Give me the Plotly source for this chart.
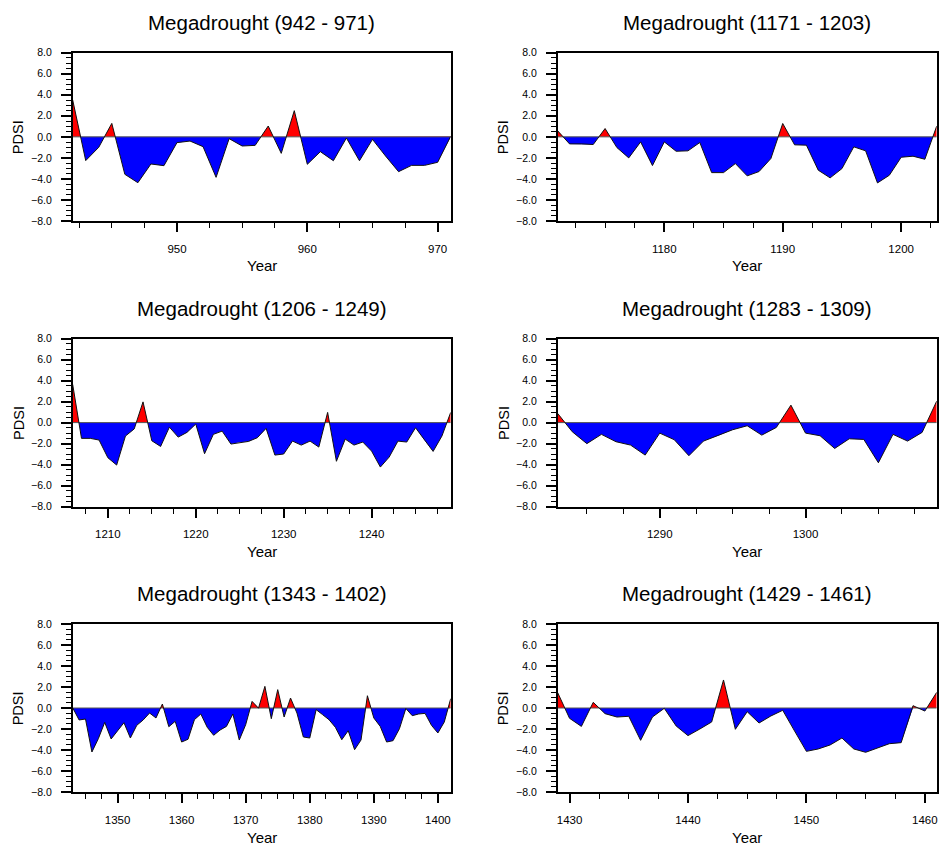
import plotly.graph_objects as go

# PDSI series for six megadrought periods (annual values)
years_942 = list(range(942, 972))
pdsi_942 = [3.5, -2.26, -0.99, 1.28, -3.56, -4.36, -2.58, -2.74, -0.55, -0.40,
            -0.93, -3.85, -0.17, -0.87, -0.81, 1.03, -1.57, 2.49, -2.61, -1.41,
            -2.27, -0.11, -2.27, -0.24, -1.82, -3.31, -2.71, -2.71, -2.42, 0.05]

years_1171 = list(range(1171, 1204))
pdsi_1171 = [0.57, -0.67, -0.67, -0.73, 0.79, -1.02, -2.00, -0.48, -2.73, -0.48,
             -1.37, -1.33, -0.54, -3.40, -3.40, -2.54, -3.71, -3.30, -2.06, 1.27,
             -0.76, -0.79, -3.17, -3.90, -3.02, -0.95, -1.33, -4.38, -3.65, -1.94,
             -1.84, -2.13, 1.02]

years_1206 = list(range(1206, 1250))
pdsi_1206 = [3.63, -1.50, -1.50, -1.66, -3.34, -4.04, -1.28, -0.60, 1.97, -1.73,
             -2.27, -0.43, -1.38, -0.93, -0.14, -2.96, -1.12, -0.81, -2.04, -1.88,
             -1.79, -1.44, -0.55, -3.09, -2.99, -1.76, -2.14, -1.76, -2.33, 0.97,
             -3.68, -1.57, -2.14, -1.85, -2.71, -4.23, -3.28, -1.76, -1.85, -0.49,
             -1.66, -2.74, -1.28, 0.97]

years_1283 = list(range(1283, 1310))
pdsi_1283 = [0.87, -0.87, -2.00, -1.12, -1.82, -2.14, -3.09, -1.00, -1.63, -3.15,
             -1.76, -1.25, -0.68, -0.30, -1.19, -0.46, 1.66, -1.00, -1.25, -2.46,
             -1.54, -1.60, -3.82, -1.12, -1.76, -0.93, 2.04]

years_1343 = list(range(1343, 1403))
pdsi_1343 = [0.02, -1.14, -1.05, -4.19, -2.92, -1.37, -2.95, -2.22, -1.40, -2.86,
             -1.65, -1.14, -0.48, -0.95, 0.38, -1.78, -1.27, -3.24, -2.98, -1.11,
             -0.57, -1.84, -2.60, -2.10, -1.75, -0.57, -3.05, -1.59, 0.63, -0.02,
             2.06, -1.02, 1.75, -0.86, 0.95, -0.48, -2.76, -2.86, -0.16, -0.63,
             -1.11, -1.84, -3.02, -2.16, -3.97, -3.05, 1.17, -0.95, -1.75, -3.24,
             -3.11, -1.97, -0.05, -0.73, -0.57, -0.51, -1.65, -2.38, -1.33, 0.89]

years_1429 = list(range(1429, 1462))
pdsi_1429 = [1.46, -0.98, -1.75, 0.54, -0.54, -0.86, -0.79, -3.08, -0.86, -0.03,
             -1.71, -2.63, -2.00, -1.33, 2.67, -2.03, -0.35, -1.43, -0.76, -0.22,
             -2.19, -4.13, -3.90, -3.52, -2.86, -3.90, -4.22, -3.81, -3.40, -3.30,
             0.22, -0.29, 1.49]

panels = [
    ("Megadrought (942 - 971)", years_942, pdsi_942),
    ("Megadrought (1171 - 1203)", years_1171, pdsi_1171),
    ("Megadrought (1206 - 1249)", years_1206, pdsi_1206),
    ("Megadrought (1283 - 1309)", years_1283, pdsi_1283),
    ("Megadrought (1343 - 1402)", years_1343, pdsi_1343),
    ("Megadrought (1429 - 1461)", years_1429, pdsi_1429),
]

y_ticks = [-8, -6, -4, -2, 0, 2, 4, 6, 8]

W, H = 941, 848
FONT = "Liberation Sans, Arial, Helvetica, sans-serif"
WET = "#ff0000"
DRY = "#0000ff"

# plot-box pixel extents: columns (left, right) and rows (top, bottom)
cols_px = [(72.7, 450.7), (557.7, 936.7)]
rows_px = [(52.7, 221.0), (338.5, 506.7), (624.0, 792.0)]


def px_x(p):
    return p / W


def px_y(p):
    return 1 - p / H


def split_at_zero(xs, ys):
    """Insert zero crossings so the wet/dry fills meet exactly on y=0."""
    ox, oy = [xs[0]], [ys[0]]
    for i in range(1, len(xs)):
        x0, y0, x1, y1 = xs[i - 1], ys[i - 1], xs[i], ys[i]
        if (y0 > 0 and y1 < 0) or (y0 < 0 and y1 > 0):
            xc = x0 + (x1 - x0) * y0 / (y0 - y1)
            ox.append(xc)
            oy.append(0.0)
        ox.append(x1)
        oy.append(y1)
    return ox, oy


fig = go.Figure()
annotations = []
layout_axes = {}

for i, (title, yrs, vals) in enumerate(panels):
    r, c = divmod(i, 2)
    n = i + 1
    xa = "x" if n == 1 else f"x{n}"
    ya = "y" if n == 1 else f"y{n}"
    xs, ys = split_at_zero(yrs, vals)
    pos = [max(v, 0.0) for v in ys]
    neg = [min(v, 0.0) for v in ys]

    fig.add_trace(go.Scatter(x=xs, y=pos, mode="lines", fill="tozeroy",
                             fillcolor=WET, line=dict(width=0, color=WET),
                             xaxis=xa, yaxis=ya, showlegend=False, hoverinfo="skip"))
    fig.add_trace(go.Scatter(x=xs, y=neg, mode="lines", fill="tozeroy",
                             fillcolor=DRY, line=dict(width=0, color=DRY),
                             xaxis=xa, yaxis=ya, showlegend=False, hoverinfo="skip"))
    # zero reference line across the period
    fig.add_trace(go.Scatter(x=[yrs[0], yrs[-1]], y=[0, 0], mode="lines",
                             line=dict(width=1, color="#555555"),
                             xaxis=xa, yaxis=ya, showlegend=False, hoverinfo="skip"))
    # PDSI outline
    fig.add_trace(go.Scatter(x=yrs, y=vals, mode="lines",
                             line=dict(width=1, color="#111111"),
                             xaxis=xa, yaxis=ya, showlegend=False))

    l, rr = cols_px[c]
    t, b = rows_px[r]
    xkey = "xaxis" if n == 1 else f"xaxis{n}"
    ykey = "yaxis" if n == 1 else f"yaxis{n}"
    layout_axes[xkey] = dict(
        domain=[px_x(l), px_x(rr)], anchor=ya, range=[yrs[0], yrs[-1]],
        tick0=0, dtick=10, ticks="outside", ticklen=9, tickwidth=1.5,
        tickcolor="black", showline=True, linecolor="black", linewidth=1.6,
        mirror=True, showgrid=False, zeroline=False,
        tickfont=dict(family=FONT, size=11.5, color="black"),
        ticklabelstandoff=7,
        minor=dict(tick0=0, dtick=2.5, ticks="outside", ticklen=5,
                   tickwidth=1, tickcolor="black", showgrid=False),
    )
    layout_axes[ykey] = dict(
        domain=[px_y(b), px_y(t)], anchor=xa, range=[-8, 8],
        tickvals=y_ticks, tickformat=".1f", ticks="outside", ticklen=10,
        tickwidth=1.5, tickcolor="black", showline=True, linecolor="black",
        linewidth=1.6, mirror=True, showgrid=False, zeroline=False,
        tickfont=dict(family=FONT, size=10.5, color="black"),
        ticklabelstandoff=7,
        minor=dict(tick0=0, dtick=0.5, ticks="outside", ticklen=5,
                   tickwidth=1, tickcolor="black", showgrid=False),
    )

    cx = (l + rr) / 2
    annotations.append(dict(text=title, x=px_x(cx), y=px_y(t - 30.5),
                            xref="paper", yref="paper", showarrow=False,
                            xanchor="center", yanchor="middle",
                            font=dict(family=FONT, size=20.5, color="black")))
    annotations.append(dict(text="Year", x=px_x(cx), y=px_y(b + 45),
                            xref="paper", yref="paper", showarrow=False,
                            xanchor="center", yanchor="middle",
                            font=dict(family=FONT, size=15, color="black")))
    annotations.append(dict(text="PDSI", x=px_x(l - 54.4), y=px_y((t + b) / 2),
                            xref="paper", yref="paper", showarrow=False,
                            textangle=-90, xanchor="center", yanchor="middle",
                            font=dict(family=FONT, size=14.5, color="black")))

fig.update_layout(
    width=W, height=H,
    margin=dict(l=0, r=0, t=0, b=0, pad=0, autoexpand=False),
    paper_bgcolor="white", plot_bgcolor="white",
    annotations=annotations,
    **layout_axes,
)

fig.write_html("out.html")
